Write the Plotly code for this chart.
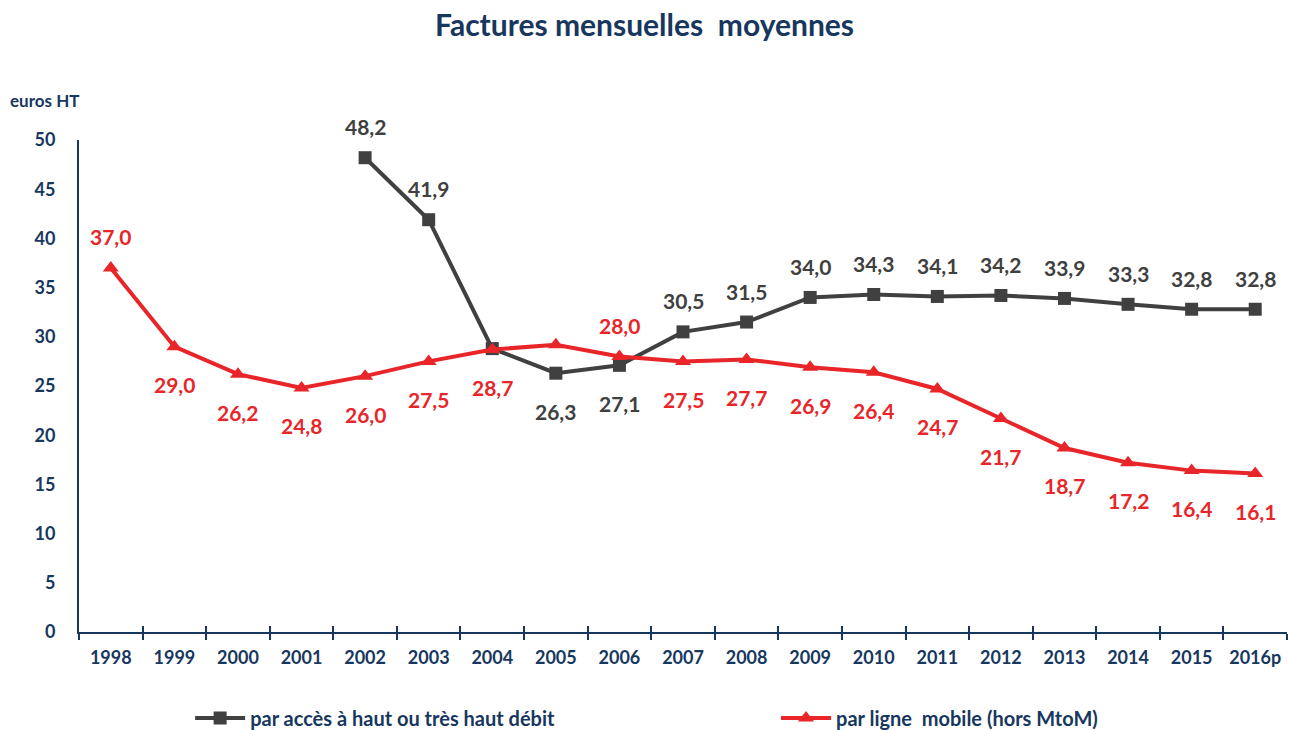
import plotly.graph_objects as go

years = ["1998", "1999", "2000", "2001", "2002", "2003", "2004", "2005", "2006", "2007",
         "2008", "2009", "2010", "2011", "2012", "2013", "2014", "2015", "2016p"]
haut_debit = [None, None, None, None, 48.2, 41.9, 28.8, 26.3, 27.1, 30.5,
              31.5, 34.0, 34.3, 34.1, 34.2, 33.9, 33.3, 32.8, 32.8]
mobile = [37.0, 29.0, 26.2, 24.8, 26.0, 27.5, 28.7, 29.2, 28.0, 27.5,
          27.7, 26.9, 26.4, 24.7, 21.7, 18.7, 17.2, 16.4, 16.1]
# label placement: 1 above, -1 below, 0 hidden
hd_pos = [0, 0, 0, 0, 1, 1, 0, -1, -1, 1, 1, 1, 1, 1, 1, 1, 1, 1, 1]
mob_pos = [1, -1, -1, -1, -1, -1, -1, 0, 1, -1, -1, -1, -1, -1, -1, -1, -1, -1, -1]

NAVY = "#17375E"
GRAY = "#404040"
RED = "#E8262A"
FONT = "Lato"

fig = go.Figure()
fig.add_trace(go.Scatter(x=years, y=haut_debit, mode="lines+markers",
                         name="<b>par accès à haut ou très haut débit</b>",
                         line=dict(color=GRAY, width=4),
                         marker=dict(symbol="square", size=13, color=GRAY),
                         connectgaps=False, legend="legend"))
fig.add_trace(go.Scatter(x=years, y=mobile, mode="lines+markers",
                         name="<b>par ligne  mobile (hors MtoM)</b>",
                         line=dict(color=RED, width=4),
                         marker=dict(symbol="triangle-up", size=14, color=RED),
                         legend="legend2"))
# helper trace carrying the inner half of the category ticks
fig.add_trace(go.Scatter(x=years, y=mobile, mode="none", xaxis="x2", showlegend=False,
                         hoverinfo="skip"))

def fmt(v):
    return f"{v:.1f}".replace(".", ",")

for vals, pos, col in [(haut_debit, hd_pos, GRAY), (mobile, mob_pos, RED)]:
    for i, (v, p) in enumerate(zip(vals, pos)):
        if v is None or p == 0:
            continue
        fig.add_annotation(x=i, y=v, text=f"<b>{fmt(v)}</b>", showarrow=False,
                           yshift=31 if p > 0 else -38,
                           font=dict(family=FONT, size=21, color=col))

fig.add_annotation(xref="paper", yref="paper", x=-0.0575, y=1.0, yshift=40, xshift=-2,
                   xanchor="left", yanchor="middle", showarrow=False,
                   text="<b>euros HT</b>", font=dict(family=FONT, size=17, color=NAVY))

leg_common = dict(orientation="h", yanchor="middle", y=-0.175, itemwidth=50,
                  font=dict(family=FONT, size=20, color=NAVY), bgcolor="rgba(0,0,0,0)")
fig.update_layout(
    width=1289, height=730,
    margin=dict(l=79, r=2, t=140, b=98, autoexpand=False),
    paper_bgcolor="white", plot_bgcolor="white",
    title=dict(text="<b>Factures mensuelles  moyennes</b>", x=0.5, xanchor="center",
               y=0.965, yanchor="middle",
               font=dict(family=FONT, size=30, color=NAVY)),
    font=dict(family=FONT, color=NAVY),
    showlegend=True,
    legend=dict(x=0.092, xanchor="left", **leg_common),
    legend2=dict(x=0.577, xanchor="left", **leg_common),
    xaxis2=dict(type="category", overlaying="x", side="bottom", anchor="y",
                range=[-0.5, 18.5], ticks="inside", tickson="boundaries", ticklen=6,
                tickwidth=2, tickcolor=NAVY, showticklabels=False, showgrid=False,
                zeroline=False, showline=False),
)
fig.update_layout(xaxis=dict(type="category", range=[-0.5, 18.5], showline=True, linecolor=NAVY,
                 linewidth=2, ticks="outside", tickson="boundaries", ticklen=6,
                 tickwidth=2, tickcolor=NAVY, showgrid=False, zeroline=False,
                 tickfont=dict(family=FONT, size=18, color=NAVY),
                 tickprefix="<b>", ticksuffix="</b>", ticklabelstandoff=8,
                 ticklabeloverflow="allow"))
fig.update_yaxes(range=[0, 50], dtick=5, showline=True, linecolor=NAVY, linewidth=2,
                 ticks="", showgrid=False, zeroline=False,
                 tickfont=dict(family=FONT, size=18, color=NAVY),
                 tickprefix="<b>", ticksuffix="</b>", ticklabelstandoff=18)

fig.write_html("out.html", config={"displayModeBar": False},
               post_script="document.body.style.margin='0';")
